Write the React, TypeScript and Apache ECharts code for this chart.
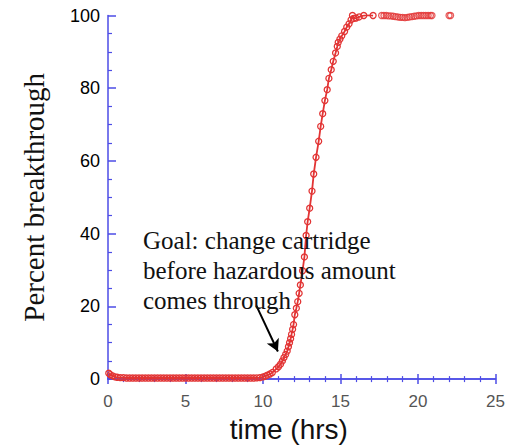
import React, { useEffect, useRef } from "react";
import * as echarts from "echarts";

// Breakthrough curve (connected with a line)
const timeHrs = [
  0.05, 0.15, 0.3, 0.45, 0.6, 0.8, 1.0, 1.2, 1.4, 1.6, 1.8, 2.0, 2.2, 2.4, 2.6, 2.8,
  3.0, 3.2, 3.4, 3.6, 3.8, 4.0, 4.2, 4.4, 4.6, 4.8, 5.0, 5.2, 5.4, 5.6, 5.8, 6.0,
  6.2, 6.4, 6.6, 6.8, 7.0, 7.2, 7.4, 7.6, 7.8, 8.0, 8.2, 8.4, 8.6, 8.8, 9.0, 9.2,
  9.4, 9.6, 9.8, 10.0, 10.15, 10.28, 10.45, 10.6, 10.85, 11.0, 11.13, 11.25, 11.35,
  11.46, 11.56, 11.64, 11.71, 11.78, 11.84, 11.91, 11.97, 12.05, 12.15, 12.24, 12.33,
  12.41, 12.55, 12.67, 12.78, 12.88, 13.01, 13.16, 13.27, 13.42, 13.59, 13.72, 13.85,
  13.99, 14.14, 14.25, 14.4, 14.53, 14.68, 14.79, 14.85, 14.96, 15.08, 15.26, 15.4,
  15.55, 15.68, 15.77, 15.85, 16.0, 16.2, 16.5, 16.8, 17.1,
];
const breakthroughPct = [
  1.6, 1.2, 0.9, 0.6, 0.5, 0.4, 0.4, 0.3, 0.3, 0.3, 0.3, 0.3, 0.3, 0.3, 0.3, 0.3,
  0.3, 0.3, 0.3, 0.3, 0.3, 0.3, 0.3, 0.3, 0.3, 0.3, 0.3, 0.3, 0.3, 0.3, 0.3, 0.3,
  0.3, 0.3, 0.3, 0.3, 0.3, 0.3, 0.3, 0.3, 0.3, 0.3, 0.3, 0.3, 0.3, 0.3, 0.3, 0.3,
  0.3, 0.35, 0.4, 0.6, 0.8, 1.1, 1.4, 1.8, 2.8, 3.4, 4.1, 5.0, 5.9,
  6.8, 7.7, 8.9, 10.0, 11.1, 12.3, 13.7, 15.0, 17.7, 19.5, 21.3, 23.6,
  25.9, 29.8, 33.6, 39.5, 43.3, 47.0, 51.7, 56.4, 61.0, 65.4, 69.5, 73.0,
  76.6, 79.6, 82.7, 85.1, 87.4, 89.7, 91.5, 92.6, 93.5, 94.4, 95.6, 96.8,
  97.7, 98.8, 100, 99.2, 99.3, 99.6, 100, 100.1, 100,
];

// Plateau points (markers only)
const plateauTime = [
  17.65, 17.8, 17.95, 18.1, 18.25, 18.4, 18.55, 18.7, 18.85, 19.0, 19.15, 19.3,
  19.45, 19.6, 19.75, 19.9, 20.05, 20.2, 20.35, 20.5, 20.65, 20.8, 20.9, 22.0, 22.1,
];
const plateauPct = [
  100, 100, 100, 99.9, 99.9, 99.8, 99.7, 99.6, 99.5, 99.5, 99.4, 99.5,
  99.6, 99.7, 99.8, 99.9, 100, 100, 100, 100, 100, 100, 100, 100, 100,
];

const xTicks = { min: 0, max: 25, interval: 5 };
const yTicks = { min: 0, max: 100, interval: 20 };

const annotationLines = [
  "Goal: change cartridge",
  "before hazardous amount",
  "comes through",
];
const arrowFrom = [9.57, 20.2];
const arrowTo = [10.96, 7.6];

const RED = "#e23434";
const BLUE = "#4d4de6";

export default function App() {
  const ref = useRef<HTMLDivElement>(null);

  useEffect(() => {
    if (!ref.current) return;
    const chart = echarts.init(ref.current, undefined, { renderer: "svg" });

    const curveData = timeHrs.map((t, i) => [t, breakthroughPct[i]]);
    const plateauData = plateauTime.map((t, i) => [t, plateauPct[i]]);

    const baseX = {
      type: "value" as const,
      min: xTicks.min,
      max: xTicks.max,
      interval: xTicks.interval,
      position: "bottom" as const,
      splitLine: { show: false },
      axisLine: { show: true, lineStyle: { color: BLUE, width: 1.5 } },
    };

    chart.setOption({
      animation: false,
      backgroundColor: "#ffffff",
      grid: { left: 108, right: 10, top: 15.5, bottom: 64.5, containLabel: false },
      xAxis: [
        {
          ...baseX,
          name: "time (hrs)",
          nameLocation: "middle",
          nameGap: 30,
          nameTextStyle: {
            fontFamily: "Liberation Sans, Arial, sans-serif",
            fontSize: 28,
            color: "#111",
            padding: [0, 26, 0, 0],
          },
          axisTick: { show: true, inside: true, length: 5, lineStyle: { color: BLUE, width: 1.5 } },
          minorTick: { show: true, splitNumber: 5, length: 3, lineStyle: { color: BLUE, width: 1.2 } },
          axisLabel: {
            margin: 14,
            fontSize: 17,
            color: "#555",
            fontFamily: "Liberation Sans, Arial, sans-serif",
          },
        },
        {
          ...baseX,
          axisTick: { show: true, inside: false, length: 5, lineStyle: { color: BLUE, width: 1.5 } },
          minorTick: { show: true, splitNumber: 5, length: 3, lineStyle: { color: BLUE, width: 1.2 } },
          axisLabel: { show: false },
        },
      ],
      yAxis: {
        type: "value",
        min: yTicks.min,
        max: yTicks.max,
        interval: yTicks.interval,
        name: "Percent breakthrough",
        nameLocation: "middle",
        nameGap: 60,
        nameTextStyle: {
          fontFamily: "Liberation Serif, Times New Roman, serif",
          fontSize: 29,
          color: "#111",
        },
        splitLine: { show: false },
        axisLine: { show: true, lineStyle: { color: BLUE, width: 1.5 } },
        axisTick: { show: true, inside: true, length: 8, lineStyle: { color: BLUE, width: 1.5 } },
        minorTick: { show: true, splitNumber: 4, length: 4, lineStyle: { color: BLUE, width: 1.2 } },
        axisLabel: {
          margin: 8,
          fontSize: 18,
          color: "#000",
          fontFamily: "Liberation Sans, Arial, sans-serif",
        },
      },
      graphic: [
        {
          type: "text",
          left: 143,
          top: 225,
          z: 10,
          style: {
            text: annotationLines.join("\n"),
            font: '25px "Liberation Serif", "Times New Roman", serif',
            fill: "#111",
            lineHeight: 30,
          },
        },
      ],
      series: [
        {
          type: "line",
          xAxisIndex: 0,
          data: curveData,
          symbol: "circle",
          symbolSize: 6,
          showAllSymbol: true,
          lineStyle: { color: RED, width: 1.8 },
          itemStyle: { color: "rgba(255,255,255,0)", borderColor: RED, borderWidth: 1.3 },
          z: 5,
          markLine: {
            silent: true,
            symbol: ["none", "arrow"],
            symbolSize: [10, 12],
            label: { show: false },
            lineStyle: { color: "#000", width: 2, type: "solid" },
            data: [[{ coord: arrowFrom }, { coord: arrowTo }]],
          },
        },
        {
          type: "scatter",
          xAxisIndex: 0,
          data: plateauData,
          symbol: "circle",
          symbolSize: 6,
          itemStyle: { color: "rgba(255,255,255,0)", borderColor: RED, borderWidth: 1.3 },
          z: 5,
        },
      ],
    });

    return () => chart.dispose();
  }, []);

  return (
    <div
      ref={ref}
      style={{ position: "fixed", left: 0, top: 0, width: 508, height: 448, background: "#fff" }}
    />
  );
}
